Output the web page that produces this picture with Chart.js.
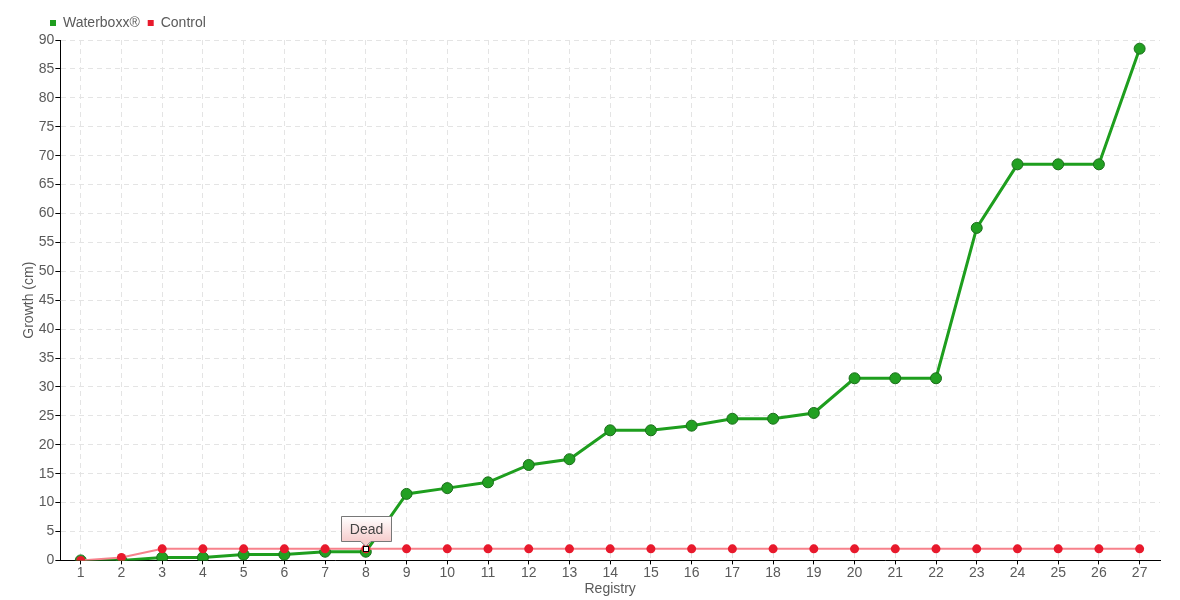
<!DOCTYPE html>
<html>
<head>
<meta charset="utf-8">
<script src="https://cdn.jsdelivr.net/npm/chart.js@4.4.1/dist/chart.umd.min.js"></script>
<style>
  html, body { margin: 0; padding: 0; background: #fff; }
  #wrap { width: 1180px; height: 600px; }
</style>
</head>
<body>
<div id="wrap"><canvas id="growthChart"></canvas></div>
<script>
// ── Data ─────────────────────────────────────────────────────────
const REGISTRY = Array.from({ length: 27 }, (_, i) => String(i + 1));

const WATERBOXX = [
  0, 0, 0.5, 0.5, 1, 1, 1.5, 1.5, 11.5, 12.5,
  13.5, 16.5, 17.5, 22.5, 22.5, 23.3, 24.5, 24.5, 25.5, 31.5,
  31.5, 31.5, 57.5, 68.5, 68.5, 68.5, 88.5
];

const CONTROL = [
  0, 0.5, 2, 2, 2, 2, 2, 2, 2, 2,
  2, 2, 2, 2, 2, 2, 2, 2, 2, 2,
  2, 2, 2, 2, 2, 2, 2
];

const NOTE_INDEX = 7;      // Control dies at registry 8
const NOTE_TEXT = 'Dead';

const FONT = "'Liberation Sans', Arial, sans-serif";
const TEXT_GREY = '#5a5a5a';

Chart.defaults.font.family = FONT;
Chart.defaults.font.size = 14;
Chart.defaults.color = TEXT_GREY;


// ── Legend nudge: the legend sits a bit right of the axis title ──
const legendShift = {
  id: 'legendShift',
  beforeDraw(chart) {
    const lg = chart.legend;
    if (!lg) return;
    lg.left = 42;
    lg.right = lg.left + lg.width;
  }
};


// ── "Dead" label on the control series ───────────────────────────
const deadNote = {
  id: 'deadNote',
  afterDatasetsDraw(chart) {
    const pt = chart.getDatasetMeta(1).data[NOTE_INDEX];
    if (!pt) return;
    const ctx = chart.ctx;
    const w = 50, h = 25;
    const x0 = Math.round(pt.x) - w / 2 + 0.5;
    const y0 = Math.round(pt.y) - 33 + 0.5;

    ctx.save();
    const g = ctx.createLinearGradient(0, y0, 0, y0 + h);
    g.addColorStop(0, '#ffffff');
    g.addColorStop(1, '#f6cccc');
    ctx.beginPath();
    ctx.moveTo(x0, y0);
    ctx.lineTo(x0 + w, y0);
    ctx.lineTo(x0 + w, y0 + h);
    ctx.lineTo(pt.x + 5, y0 + h);
    ctx.lineTo(pt.x, y0 + h + 5);
    ctx.lineTo(pt.x - 5, y0 + h);
    ctx.lineTo(x0, y0 + h);
    ctx.closePath();
    ctx.fillStyle = g;
    ctx.fill();
    ctx.strokeStyle = '#777';
    ctx.lineWidth = 1;
    ctx.stroke();

    ctx.fillStyle = '#444';
    ctx.font = `14px ${FONT}`;
    ctx.textAlign = 'center';
    ctx.textBaseline = 'middle';
    ctx.fillText(NOTE_TEXT, x0 + w / 2, y0 + h / 2 + 1);

    ctx.fillStyle = '#fff';
    ctx.strokeStyle = '#000';
    ctx.fillRect(Math.round(pt.x) - 3, Math.round(pt.y) - 3, 6, 6);
    ctx.strokeRect(Math.round(pt.x) - 2.5, Math.round(pt.y) - 2.5, 5, 5);
    ctx.restore();
  }
};


// ── Chart ────────────────────────────────────────────────────────
new Chart(document.getElementById('growthChart'), {
  type: 'line',
  data: {
    labels: REGISTRY,
    datasets: [
      {
        label: 'Waterboxx®',
        data: WATERBOXX,
        order: 1,
        borderColor: '#1e9e1e',
        backgroundColor: '#1e9e1e',
        borderWidth: 3,
        pointRadius: 5.5,
        pointBackgroundColor: '#22a022',
        pointBorderColor: '#1b6e1b',
        pointBorderWidth: 1,
        tension: 0
      },
      {
        label: 'Control',
        data: CONTROL,
        order: 0,
        borderColor: '#f7828c',
        backgroundColor: '#e8192c',
        borderWidth: 2,
        pointRadius: 4.5,
        pointBackgroundColor: '#e8192c',
        pointBorderColor: '#e8192c',
        pointBorderWidth: 0,
        tension: 0
      }
    ]
  },
  options: {
    responsive: true,
    maintainAspectRatio: false,
    animation: false,
    layout: { padding: { left: 21, right: 20, top: 8, bottom: 2 } },
    plugins: {
      tooltip: { enabled: false },
      legend: {
        position: 'top',
        align: 'start',
        labels: {
          boxWidth: 6,
          boxHeight: 6,
          padding: 8,
          color: TEXT_GREY,
          generateLabels(chart) {
            return chart.data.datasets.map((ds, i) => ({
              text: ds.label,
              fillStyle: ds.backgroundColor,
              strokeStyle: ds.backgroundColor,
              lineWidth: 0,
              datasetIndex: i,
              fontColor: TEXT_GREY
            }));
          }
        }
      }
    },
    scales: {
      x: {
        offset: true,
        title: { display: true, text: 'Registry', color: TEXT_GREY, padding: 0 },
        grid: {
          offset: false,
          color: '#e4e4e4',
          tickColor: '#000',
          tickLength: 4,
          tickBorderDash: []
        },
        border: { color: '#000', width: 1, dash: [5, 4] },
        ticks: { color: TEXT_GREY, padding: 0, maxRotation: 0, autoSkip: false }
      },
      y: {
        min: 0,
        max: 90,
        title: { display: true, text: 'Growth (cm)', color: TEXT_GREY, padding: 0 },
        grid: {
          color: '#e4e4e4',
          tickColor: '#000',
          tickLength: 5,
          tickBorderDash: []
        },
        border: { color: '#000', width: 1, dash: [5, 4] },
        ticks: { stepSize: 5, color: TEXT_GREY, padding: 1 }
      }
    }
  },
  plugins: [legendShift, deadNote]
});
</script>
</body>
</html>
